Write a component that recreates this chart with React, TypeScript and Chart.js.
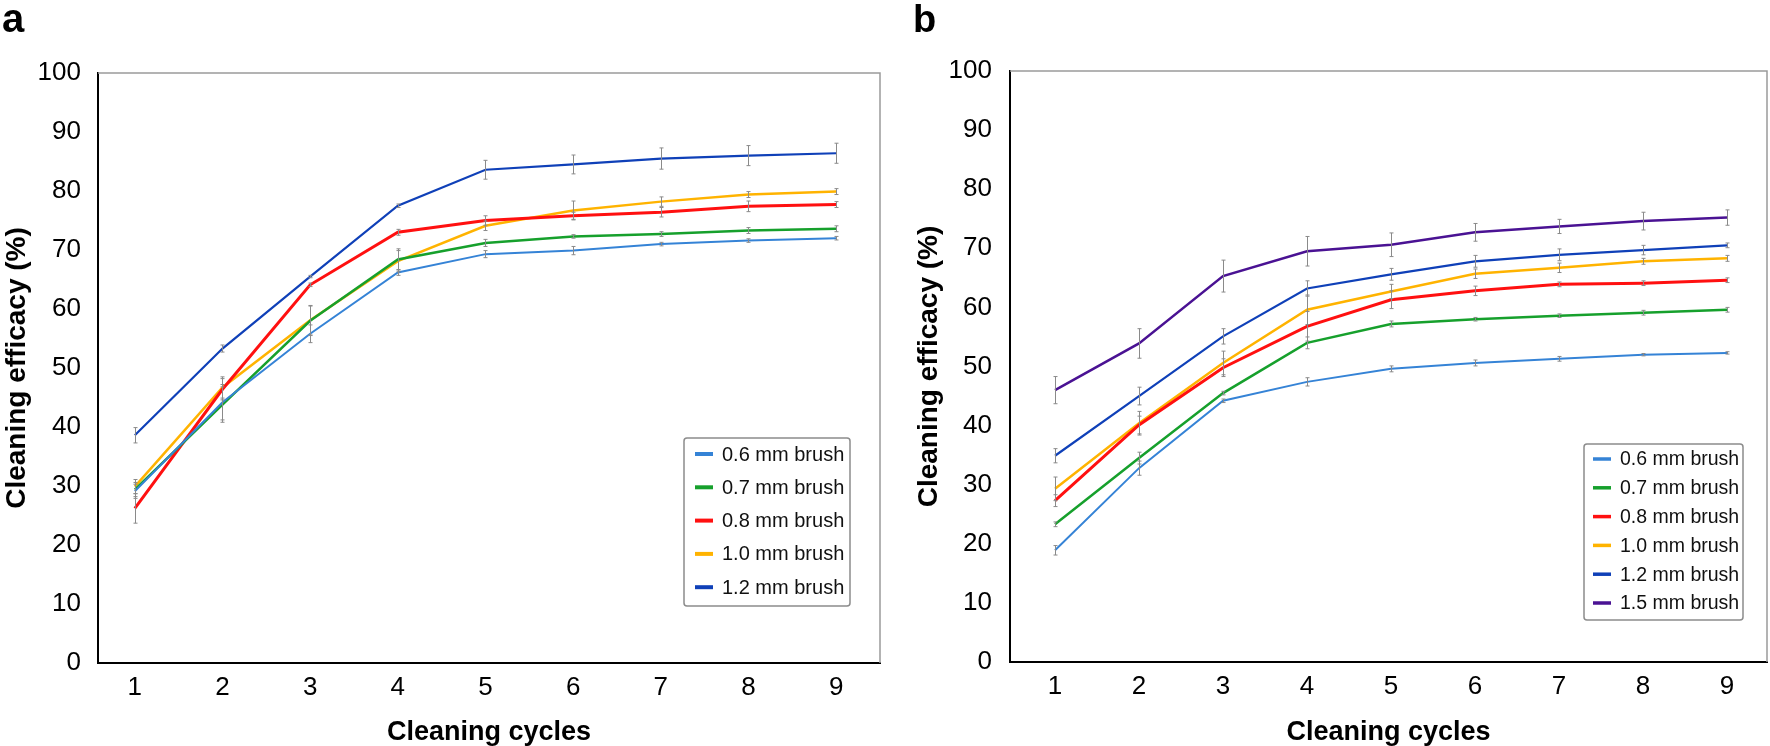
import React, { useEffect, useRef } from 'react';
import { Chart, registerables } from 'chart.js';
Chart.register(...registerables);

// ---------- data ----------
const cycles = [1, 2, 3, 4, 5, 6, 7, 8, 9];
const yTickValues = [0, 10, 20, 30, 40, 50, 60, 70, 80, 90, 100];

const labelsA = ['0.6 mm brush', '0.7 mm brush', '0.8 mm brush', '1.0 mm brush', '1.2 mm brush'];
const labelsB = ['0.6 mm brush', '0.7 mm brush', '0.8 mm brush', '1.0 mm brush', '1.2 mm brush', '1.5 mm brush'];

const a06 = [29.1, 44.2, 55.8, 66.2, 69.3, 69.9, 71.0, 71.6, 72.0];
const a07 = [29.4, 43.8, 58.0, 68.4, 71.2, 72.3, 72.7, 73.3, 73.6];
const a08 = [26.2, 46.4, 64.1, 73.0, 75.0, 75.8, 76.4, 77.4, 77.7];
const a10 = [29.9, 46.7, 58.1, 68.1, 74.1, 76.7, 78.2, 79.4, 79.9];
const a12 = [38.6, 53.3, 65.5, 77.5, 83.6, 84.5, 85.5, 86.0, 86.4];

const aErr06 = [1.2, 3.0, 1.5, 0.5, 0.6, 0.7, 0.3, 0.3, 0.3];
const aErr07 = [1.2, 3.0, 2.5, 1.8, 0.6, 0.3, 0.4, 0.5, 0.5];
const aErr08 = [2.5, 1.8, 0.3, 0.5, 0.8, 0.6, 0.8, 0.9, 0.5];
const aErr10 = [1.2, 1.8, 2.5, 1.8, 0.8, 1.6, 0.8, 0.5, 0.5];
const aErr12 = [1.3, 0.6, 0.2, 0.3, 1.6, 1.6, 1.8, 1.7, 1.7];

const b06 = [18.9, 32.8, 44.2, 47.4, 49.6, 50.6, 51.3, 52.0, 52.3];
const b07 = [23.3, 34.5, 45.5, 54.0, 57.2, 58.0, 58.6, 59.1, 59.6];
const b08 = [27.3, 40.1, 49.8, 56.8, 61.3, 62.8, 63.9, 64.1, 64.6];
const b10 = [29.3, 40.4, 50.6, 59.6, 62.7, 65.7, 66.7, 67.8, 68.3];
const b12 = [34.9, 45.0, 55.1, 63.2, 65.6, 67.8, 68.9, 69.7, 70.5];
const b15 = [46.0, 53.9, 65.3, 69.5, 70.6, 72.7, 73.7, 74.6, 75.2];

const bErr06 = [0.8, 1.2, 0.3, 0.7, 0.5, 0.5, 0.4, 0.2, 0.2];
const bErr07 = [0.4, 1.0, 0.3, 1.0, 0.5, 0.3, 0.3, 0.4, 0.4];
const bErr08 = [1.0, 1.5, 1.5, 2.5, 1.5, 0.8, 0.4, 0.4, 0.4];
const bErr10 = [2.0, 2.0, 2.0, 2.5, 1.2, 0.8, 0.8, 0.5, 0.5];
const bErr12 = [1.2, 1.5, 1.3, 1.3, 1.0, 1.0, 1.0, 0.8, 0.4];
const bErr15 = [2.3, 2.5, 2.7, 2.5, 2.0, 1.5, 1.2, 1.5, 1.3];

const colors = ['#3583d6', '#16a02c', '#ff1010', '#ffb300', '#0f40b8', '#4a1293'];
const widthsA = [2, 2.5, 3, 2.5, 2.2];
const widthsB = [2, 2.5, 3, 2.5, 2.2, 2.5];

const FONT = 'Arial, "Liberation Sans", Helvetica, sans-serif';

type PanelCfg = {
  letter: string;
  letterSize: number;
  letterX: number;
  width: number;
  left: number;
  chartLeft: number;
  chartTop: number;
  padRight: number;
  xAxisHeight: number;
  yTickPad: number;
  yTitlePad: number;
  xMin: number;
  xMax: number;
  series: number[][];
  errors: number[][];
  labels: string[];
  widths: number[];
  legend: { x0: number; y0: number; x1: number; y1: number; rowY: number; rowStep: number; sx0: number; sx1: number; tx: number; font: number; thick: number };
};

function makePlugin(cfg: PanelCfg) {
  return {
    id: 'extras' + cfg.letter,
    afterDatasetsDraw(chart: any) {
      const ctx = chart.ctx;
      const xs = chart.scales.x;
      const ys = chart.scales.y;
      ctx.save();
      ctx.strokeStyle = '#8a8a8a';
      ctx.lineWidth = 1;
      cfg.series.forEach((s, i) => {
        s.forEach((v, j) => {
          const e = cfg.errors[i][j];
          const px = Math.round(xs.getPixelForValue(cycles[j])) + 0.5;
          const yt = ys.getPixelForValue(v + e);
          const yb = ys.getPixelForValue(v - e);
          ctx.beginPath();
          ctx.moveTo(px, yt);
          ctx.lineTo(px, yb);
          ctx.moveTo(px - 2, yt);
          ctx.lineTo(px + 2, yt);
          ctx.moveTo(px - 2, yb);
          ctx.lineTo(px + 2, yb);
          ctx.stroke();
        });
      });
      ctx.restore();
    },
    afterDraw(chart: any) {
      const ctx = chart.ctx;
      const a = chart.chartArea;
      ctx.save();
      // top & right frame (gray)
      ctx.strokeStyle = '#9a9a9a';
      ctx.lineWidth = 1.5;
      ctx.beginPath();
      ctx.moveTo(a.left, a.top);
      ctx.lineTo(a.right, a.top);
      ctx.lineTo(a.right, a.bottom);
      ctx.stroke();
      // legend
      const L = cfg.legend;
      ctx.fillStyle = '#ffffff';
      ctx.strokeStyle = '#8c8c8c';
      ctx.lineWidth = 1.5;
      ctx.beginPath();
      if ((ctx as any).roundRect) (ctx as any).roundRect(L.x0, L.y0, L.x1 - L.x0, L.y1 - L.y0, 3);
      else ctx.rect(L.x0, L.y0, L.x1 - L.x0, L.y1 - L.y0);
      ctx.fill();
      ctx.stroke();
      ctx.font = `${L.font}px ${FONT}`;
      ctx.textBaseline = 'middle';
      ctx.textAlign = 'left';
      cfg.labels.forEach((lab, i) => {
        const y = L.rowY + i * L.rowStep;
        ctx.strokeStyle = colors[i];
        ctx.lineWidth = L.thick;
        ctx.beginPath();
        ctx.moveTo(L.sx0, y);
        ctx.lineTo(L.sx1, y);
        ctx.stroke();
        ctx.fillStyle = '#111111';
        ctx.fillText(lab, L.tx, y + 1);
      });
      // panel letter
      ctx.fillStyle = '#000000';
      ctx.font = `bold ${cfg.letterSize}px ${FONT}`;
      ctx.textBaseline = 'alphabetic';
      ctx.fillText(cfg.letter, cfg.letterX, 32);
      ctx.restore();
    },
  };
}

function Panel({ cfg }: { cfg: PanelCfg }) {
  const ref = useRef<HTMLCanvasElement | null>(null);
  useEffect(() => {
    if (!ref.current) return;
    const chart = new Chart(ref.current, {
      type: 'line',
      data: {
        datasets: cfg.series.map((s, i) => ({
          label: cfg.labels[i],
          data: s.map((v, j) => ({ x: cycles[j], y: v })),
          borderColor: colors[i],
          backgroundColor: colors[i],
          borderWidth: cfg.widths[i],
          pointRadius: 0,
          tension: 0,
          fill: false,
        })),
      },
      options: {
        animation: false,
        responsive: false,
        devicePixelRatio: 1,
        layout: { padding: { left: 0, top: cfg.chartTop, right: cfg.padRight, bottom: 0 } },
        plugins: { legend: { display: false }, tooltip: { enabled: false } },
        scales: {
          x: {
            type: 'linear',
            min: cfg.xMin,
            max: cfg.xMax,
            afterBuildTicks: (axis: any) => {
              axis.ticks = cycles.map((v) => ({ value: v }));
            },
            afterFit: (s: any) => {
              s.height = cfg.xAxisHeight;
            },
            grid: { display: false, drawTicks: false },
            border: { display: true, color: '#000000', width: 2 },
            ticks: {
              padding: 9,
              color: '#000000',
              font: { family: FONT, size: 26 },
              callback: (v: any) => String(v),
              maxRotation: 0,
            },
            title: {
              display: true,
              text: 'Cleaning cycles',
              color: '#000000',
              font: { family: FONT, size: 27, weight: 'bold', lineHeight: 1 },
              padding: 0,
            },
          },
          y: {
            type: 'linear',
            min: 0,
            max: 100,
            afterBuildTicks: (axis: any) => {
              axis.ticks = yTickValues.map((v) => ({ value: v }));
            },
            afterFit: (s: any) => {
              s.width = cfg.chartLeft;
            },
            grid: { display: false, drawTicks: false },
            border: { display: true, color: '#000000', width: 2 },
            ticks: {
              padding: cfg.yTickPad,
              color: '#000000',
              font: { family: FONT, size: 26 },
            },
            title: {
              display: true,
              text: 'Cleaning efficacy (%)',
              color: '#000000',
              font: { family: FONT, size: 28, weight: 'bold', lineHeight: 1.2 },
              padding: { top: cfg.yTitlePad, bottom: 0 },
            },
          },
        },
      },
      plugins: [makePlugin(cfg)],
    } as any);
    return () => chart.destroy();
  }, [cfg]);
  return (
    <canvas
      ref={ref}
      width={cfg.width}
      height={746}
      style={{ position: 'absolute', left: cfg.left, top: 0, width: cfg.width, height: 746, display: 'block' }}
    />
  );
}

const panelA: PanelCfg = {
  letter: 'a',
  letterSize: 40,
  letterX: 2,
  width: 900,
  left: 0,
  chartLeft: 98,
  chartTop: 73,
  padRight: 20,
  xAxisHeight: 83,
  yTickPad: 17,
  yTitlePad: 0,
  xMin: 0.58,
  xMax: 9.5,
  series: [a06, a07, a08, a10, a12],
  errors: [aErr06, aErr07, aErr08, aErr10, aErr12],
  labels: labelsA,
  widths: widthsA,
  legend: { x0: 684, y0: 438, x1: 850, y1: 606, rowY: 454, rowStep: 33.3, sx0: 695, sx1: 713, tx: 722, font: 20, thick: 4 },
};

const panelB: PanelCfg = {
  letter: 'b',
  letterSize: 38,
  letterX: 13,
  width: 870,
  left: 900,
  chartLeft: 110,
  chartTop: 71,
  padRight: 3,
  xAxisHeight: 84,
  yTickPad: 18,
  yTitlePad: 12,
  xMin: 0.464,
  xMax: 9.476,
  series: [b06, b07, b08, b10, b12, b15],
  errors: [bErr06, bErr07, bErr08, bErr10, bErr12, bErr15],
  labels: labelsB,
  widths: widthsB,
  legend: { x0: 684, y0: 444, x1: 843, y1: 620, rowY: 459, rowStep: 28.8, sx0: 693, sx1: 711, tx: 720, font: 19.5, thick: 3.5 },
};

export default function App() {
  return (
    <div style={{ position: 'absolute', left: 0, top: 0, width: 1770, height: 746, background: '#ffffff', overflow: 'hidden' }}>
      <Panel cfg={panelA} />
      <Panel cfg={panelB} />
    </div>
  );
}
